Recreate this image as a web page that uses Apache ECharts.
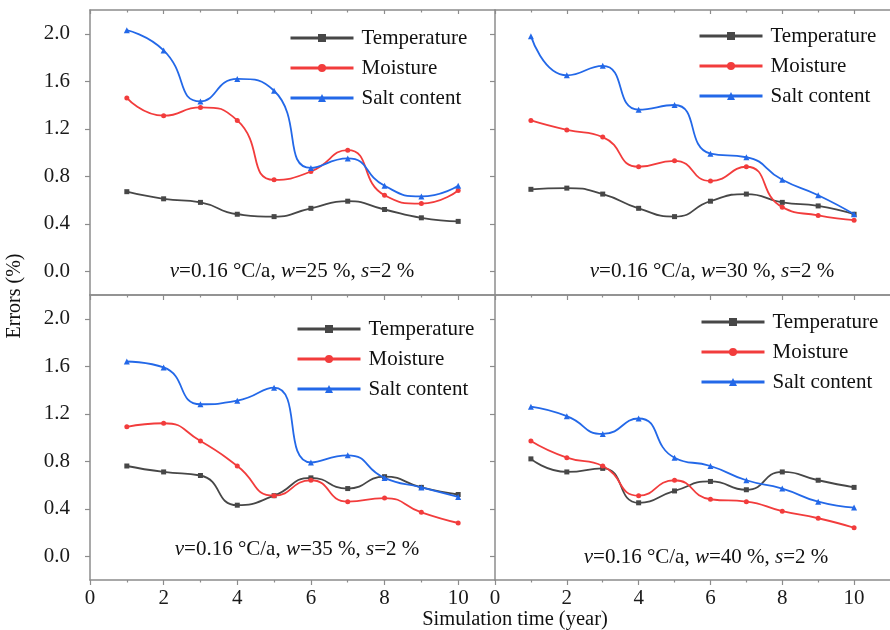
<!DOCTYPE html>
<html><head><meta charset="utf-8">
<script src="https://cdn.jsdelivr.net/npm/echarts@6/dist/echarts.min.js"></script>
<style>html,body{margin:0;padding:0;background:#fff}#c{width:890px;height:630px}</style>
</head><body><div id="c"></div>
<script>
// ---- data ----
const years = [1, 2, 3, 4, 5, 6, 7, 8, 9, 10];
const xTickValues = [0, 2, 4, 6, 8, 10];
const xMinorValues = [1, 3, 5, 7, 9];
const yTickValues = [0, 0.4, 0.8, 1.2, 1.6, 2.0];
const seriesNames = ['Temperature', 'Moisture', 'Salt content'];
const waterContents = ['25', '30', '35', '40'];

const temperatureW25 = [0.67, 0.61, 0.58, 0.48, 0.46, 0.53, 0.59, 0.52, 0.45, 0.42];
const moistureW25    = [1.46, 1.31, 1.38, 1.27, 0.77, 0.84, 1.02, 0.64, 0.57, 0.68];
const saltW25        = [2.03, 1.86, 1.43, 1.62, 1.52, 0.87, 0.95, 0.72, 0.63, 0.72];

const temperatureW30 = [0.69, 0.70, 0.65, 0.53, 0.46, 0.59, 0.65, 0.58, 0.55, 0.48];
const moistureW30    = [1.27, 1.19, 1.13, 0.88, 0.93, 0.76, 0.88, 0.54, 0.47, 0.43];
const saltW30        = [1.98, 1.65, 1.73, 1.36, 1.40, 0.99, 0.96, 0.77, 0.64, 0.48];

const temperatureW35 = [0.76, 0.71, 0.68, 0.43, 0.51, 0.66, 0.57, 0.67, 0.58, 0.52];
const moistureW35    = [1.09, 1.12, 0.97, 0.76, 0.51, 0.64, 0.46, 0.49, 0.37, 0.28];
const saltW35        = [1.64, 1.59, 1.28, 1.31, 1.42, 0.79, 0.85, 0.66, 0.58, 0.50];

const temperatureW40 = [0.82, 0.71, 0.74, 0.45, 0.55, 0.63, 0.56, 0.71, 0.64, 0.58];
const moistureW40    = [0.97, 0.83, 0.76, 0.51, 0.64, 0.48, 0.46, 0.38, 0.32, 0.24];
const saltW40        = [1.26, 1.18, 1.03, 1.16, 0.83, 0.76, 0.64, 0.57, 0.46, 0.41];

const panelData = [
  [temperatureW25, moistureW25, saltW25],
  [temperatureW30, moistureW30, saltW30],
  [temperatureW35, moistureW35, saltW35],
  [temperatureW40, moistureW40, saltW40]
];

// ---- layout / style ----
const FONT = "'Liberation Serif', 'Times New Roman', serif";
const colors = ['#474747', '#f23c3c', '#2368e8'];
const symbols = ['rect', 'circle', 'triangle'];
const axisColor = '#8c8c8c';
const grids = [
  {left: 90, top: 10, width: 405, height: 285},
  {left: 495, top: 10, width: 405, height: 285},
  {left: 90, top: 295, width: 405, height: 285},
  {left: 495, top: 295, width: 405, height: 285}
];
const legendPos = [
  {left: 289, top: 27.5}, {left: 698, top: 25.5}, {left: 296, top: 318.5}, {left: 700, top: 311.5}
];
const notePos = [[292, 271], [712, 271], [297, 549], [706, 557]];

const xAxes = [], yAxes = [], series = [], legends = [], graphics = [];
grids.forEach((g, gi) => {
  const isBottom = gi >= 2, isLeft = gi % 2 === 0, isTop = gi < 2;
  const base = {gridIndex: gi, type: 'value', min: 0, max: 11, splitLine: {show: false}};
  xAxes.push(Object.assign({}, base, {
    position: 'bottom',
    axisLine: {show: true, onZero: false, lineStyle: {color: axisColor, width: 1.5}},
    axisTick: {show: true, customValues: xTickValues, length: 5, inside: false, lineStyle: {color: axisColor, width: 1.2}},
    axisLabel: {show: isBottom, customValues: xTickValues, margin: 8, color: '#1a1a1a', fontSize: 21, fontFamily: FONT,
      formatter: v => String(v)}
  }));
  xAxes.push(Object.assign({}, base, {
    position: 'bottom',
    axisLine: {show: false, onZero: false},
    axisTick: {show: true, customValues: xMinorValues, length: 2.5, lineStyle: {color: axisColor, width: 1.2}},
    axisLabel: {show: false}
  }));
  xAxes.push(Object.assign({}, base, {
    position: 'top',
    axisLine: {show: true, onZero: false, lineStyle: {color: axisColor, width: 1.5}},
    axisTick: {show: isTop, customValues: xTickValues, length: 4, inside: true, lineStyle: {color: axisColor, width: 1.2}},
    axisLabel: {show: false}
  }));
  xAxes.push(Object.assign({}, base, {
    position: 'top',
    axisLine: {show: false, onZero: false},
    axisTick: {show: isTop, customValues: xMinorValues, length: 2.5, inside: true, lineStyle: {color: axisColor, width: 1.2}},
    axisLabel: {show: false}
  }));
  yAxes.push({
    gridIndex: gi, type: 'value', min: -0.2, max: 2.2, interval: 0.2, position: 'left',
    splitLine: {show: false},
    axisLine: {show: true, onZero: false, lineStyle: {color: axisColor, width: 1.5}},
    axisTick: {show: true, customValues: yTickValues, length: 5, lineStyle: {color: axisColor, width: 1.2}},
    axisLabel: {show: isLeft, customValues: yTickValues, margin: 20, color: '#1a1a1a', fontSize: 21, fontFamily: FONT,
      formatter: v => v.toFixed(1)}
  });
  seriesNames.forEach((name, si) => {
    series.push({
      name: name, type: 'line', xAxisIndex: gi * 4, yAxisIndex: gi, smooth: 0.55,
      data: years.map((yr, k) => [yr, panelData[gi][si][k]]),
      symbol: symbols[si], symbolSize: si === 2 ? 6 : 5,
      lineStyle: {color: colors[si], width: 1.8},
      itemStyle: {color: colors[si]},
      z: 3 + si
    });
  });
  legends.push({
    data: seriesNames, orient: 'vertical', left: legendPos[gi].left, top: legendPos[gi].top,
    padding: 0, itemWidth: 63, itemHeight: 10, itemGap: 9, selectedMode: false,
    lineStyle: {width: 3}, textStyle: {fontSize: 21, fontFamily: FONT, color: '#111', padding: [0, 0, 0, 3]}
  });
  graphics.push({
    type: 'text', x: notePos[gi][0], y: notePos[gi][1],
    style: {
      text: '{i|v}=0.16 °C/a, {i|w}=' + waterContents[gi] + ' %, {i|s}=2 %',
      align: 'center', verticalAlign: 'middle', fontSize: 21, fontFamily: FONT, fill: '#111',
      rich: {i: {fontStyle: 'italic', fontSize: 21, fontFamily: FONT, fill: '#111'}}
    }
  });
});
graphics.push({
  type: 'text', x: 15, y: 296, rotation: Math.PI / 2,
  style: {text: 'Errors (%)', align: 'center', verticalAlign: 'middle', fontSize: 20, fontFamily: FONT, fill: '#111'}
});
graphics.push({
  type: 'text', x: 515, y: 620,
  style: {text: 'Simulation time (year)', align: 'center', verticalAlign: 'middle', fontSize: 20.5, fontFamily: FONT, fill: '#111'}
});

const chart = echarts.init(document.getElementById('c'), null, {renderer: 'canvas'});
chart.setOption({
  backgroundColor: '#fff',
  animation: false,
  grid: grids,
  xAxis: xAxes,
  yAxis: yAxes,
  legend: legends,
  series: series,
  graphic: graphics
});
</script></body></html>
